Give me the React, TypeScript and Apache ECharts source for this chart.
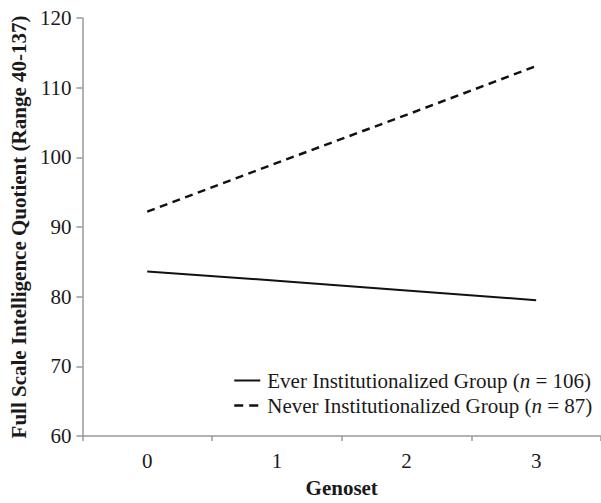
import React, { useEffect, useRef } from "react";
import * as echarts from "echarts";

const categories = ["0", "1", "2", "3"];
const everInstitutionalized = [83.6, 82.3, 80.9, 79.5];
const neverInstitutionalized = [92.2, 99.2, 106.1, 113.1];
const seriesNames = [
  "Ever Institutionalized Group (n = 106)",
  "Never Institutionalized Group (n = 87)",
];
const legendLabels: Record<string, string> = {
  [seriesNames[0]]: "{a|Ever Institutionalized Group (}{i|n}{a| = 106)}",
  [seriesNames[1]]: "{a|Never Institutionalized Group (}{i|n}{a| = 87)}",
};

const FONT = "Liberation Serif";
const TEXT = "#1a1a1a";
const LINE = "#111";

export default function App() {
  const ref = useRef<HTMLDivElement>(null);
  useEffect(() => {
    if (!ref.current) return;
    const chart = echarts.init(ref.current, undefined, { renderer: "svg" });
    chart.setOption({
      animation: false,
      backgroundColor: "#ffffff",
      textStyle: { fontFamily: FONT },
      grid: { left: 80, right: -3, top: 18, bottom: 60, containLabel: false },
      legend: {
        orient: "vertical",
        left: 228,
        top: 365,
        itemWidth: 26,
        itemHeight: 12,
        itemGap: 4,
        itemStyle: { opacity: 0 },
        data: [
          {
            name: seriesNames[0],
            itemStyle: { opacity: 0 },
            lineStyle: { color: LINE, width: 2, type: "solid" },
          },
          {
            name: seriesNames[1],
            itemStyle: { opacity: 0 },
            lineStyle: { color: LINE, width: 2.5, type: [9, 6] },
          },
        ],
        formatter: (name: string) => legendLabels[name] ?? name,
        textStyle: {
          fontFamily: FONT,
          fontSize: 21,
          color: TEXT,
          padding: [0, 0, 0, 2],
          rich: {
            a: { fontFamily: FONT, fontSize: 21, color: TEXT },
            i: { fontFamily: FONT, fontSize: 21, color: TEXT, fontStyle: "italic" },
          },
        },
      },
      xAxis: {
        type: "category",
        data: categories,
        boundaryGap: true,
        name: "Genoset",
        nameLocation: "middle",
        nameGap: 41,
        nameTextStyle: { fontFamily: FONT, fontWeight: "bold", fontSize: 21, color: TEXT },
        axisLine: { lineStyle: { color: "#999", width: 1.5 } },
        axisTick: { show: true, length: 5, lineStyle: { color: "#999", width: 1.5 } },
        axisLabel: { fontFamily: FONT, fontSize: 21, color: TEXT, margin: 14 },
        splitLine: { show: false },
      },
      yAxis: {
        type: "value",
        min: 60,
        max: 120,
        interval: 10,
        name: "Full Scale Intelligence Quotient (Range 40-137)",
        nameLocation: "middle",
        nameGap: 47,
        nameRotate: 90,
        nameTextStyle: { fontFamily: FONT, fontWeight: "bold", fontSize: 21, color: TEXT },
        axisLine: { show: true, lineStyle: { color: "#999", width: 1.5 } },
        axisTick: { show: true, length: 6, lineStyle: { color: "#999", width: 1.5 } },
        axisLabel: { fontFamily: FONT, fontSize: 21, color: TEXT, margin: 11 },
        splitLine: { show: false },
      },
      series: [
        {
          name: seriesNames[0],
          type: "line",
          data: everInstitutionalized,
          showSymbol: false,
          symbol: "none",
          lineStyle: { color: LINE, width: 2, type: "solid" },
          itemStyle: { color: LINE },
        },
        {
          name: seriesNames[1],
          type: "line",
          data: neverInstitutionalized,
          showSymbol: false,
          symbol: "none",
          lineStyle: { color: LINE, width: 2.5, type: [8, 5.5] },
          itemStyle: { color: LINE },
        },
      ],
    });
    return () => chart.dispose();
  }, []);
  return (
    <div
      ref={ref}
      style={{ position: "fixed", left: 0, top: 0, width: 601, height: 503, background: "#fff" }}
    />
  );
}
